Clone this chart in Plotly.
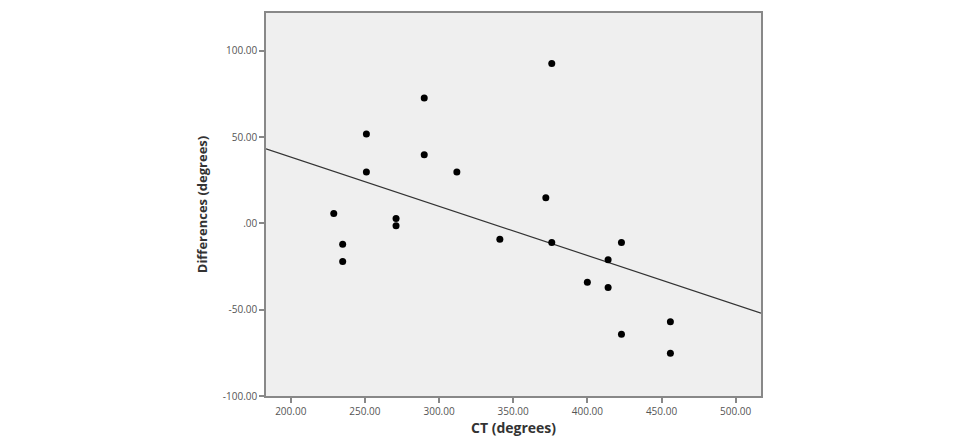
import numpy as np
import plotly.graph_objects as go

ct = [229, 235, 235, 251, 251, 271, 271, 290, 290, 312, 341, 372, 376, 376,
      400, 414, 414, 423, 423, 456, 456]
diff = [5.8, -12, -22, 51.8, 29.8, 2.9, -1.3, 72.7, 39.8, 29.8, -9.1, 14.9, 92.8, -11,
        -34, -21, -37.1, -11, -64.2, -57, -75.2]

x_ticks = [200, 250, 300, 350, 400, 450, 500]
x_ticktext = ["200.00", "250.00", "300.00", "350.00", "400.00", "450.00", "500.00"]
y_ticks = [100, 50, 0, -50, -100]
y_ticktext = ["100.00", "50.00", ".00", "-50.00", "-100.00"]

x_range = [183.3, 517.1]
y_range = [-100, 122]

slope, intercept = np.polyfit(ct, diff, 1)
line_x = np.array(x_range)
line_y = slope * line_x + intercept

fig = go.Figure()
fig.add_trace(go.Scatter(x=line_x, y=line_y, mode="lines",
                         line=dict(color="#333333", width=1.2), hoverinfo="skip"))
fig.add_trace(go.Scatter(x=ct, y=diff, mode="markers",
                         marker=dict(color="#000000", size=7)))

fig.update_layout(
    width=959, height=438,
    margin=dict(l=266, r=198, t=13, b=42),
    paper_bgcolor="white",
    plot_bgcolor="#efefef",
    showlegend=False,
    font=dict(family="Open Sans, DejaVu Sans, sans-serif", color="#555555", size=10),
)
fig.update_xaxes(
    range=x_range, tickvals=x_ticks, ticktext=x_ticktext, automargin=False,
    showgrid=False, zeroline=False,
    showline=True, linecolor="#888888", linewidth=1.5, mirror=True,
    ticks="outside", ticklen=5, tickcolor="#888888", tickwidth=1.5,
    title=dict(text="<b>CT (degrees)</b>", font=dict(size=14, color="#333333"), standoff=4),
)
fig.update_yaxes(
    range=y_range, tickvals=y_ticks, ticktext=y_ticktext, automargin=False,
    showgrid=False, zeroline=False,
    showline=True, linecolor="#888888", linewidth=1.5, mirror=True,
    ticks="outside", ticklen=5, tickcolor="#888888", tickwidth=1.5,
    title=dict(text="<b>Differences (degrees)</b>", font=dict(size=13, color="#333333"), standoff=12),
)

fig.write_html("out.html")
